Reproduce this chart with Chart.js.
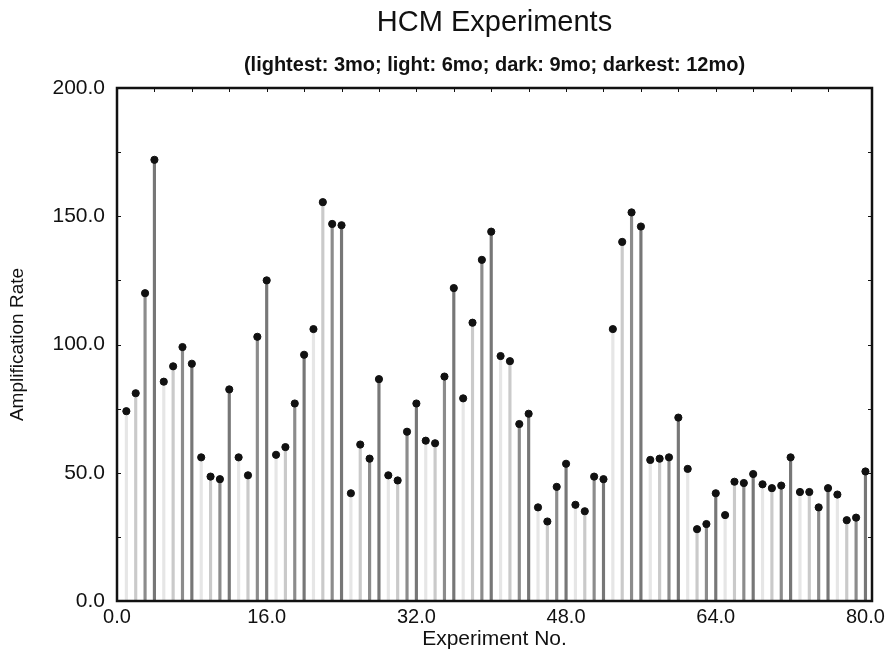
<!DOCTYPE html>
<html>
<head>
<meta charset="utf-8">
<title>HCM Experiments</title>
<script src="https://cdn.jsdelivr.net/npm/chart.js@4.4.1/dist/chart.umd.min.js"></script>
<style>
  html, body { margin: 0; padding: 0; background: #fff; }
</style>
</head>
<body>
<canvas id="myChart" width="885" height="658"></canvas>
<script>
// amplification rate of experiments 1..80
const rates = [
  74, 81, 120, 172, 85.5, 91.5, 99, 92.5, 56, 48.5,
  47.5, 82.5, 56, 49, 103, 125, 57, 60, 77, 96,
  106, 155.5, 147, 146.5, 42, 61, 55.5, 86.5, 49, 47,
  66, 77, 62.5, 61.5, 87.5, 122, 79, 108.5, 133, 144,
  95.5, 93.5, 69, 73, 36.5, 31, 44.5, 53.5, 37.5, 35,
  48.5, 47.5, 106, 140, 151.5, 146, 55, 55.5, 56, 71.5,
  51.5, 28, 30, 42, 33.5, 46.5, 46, 49.5, 45.5, 44,
  45, 56, 42.5, 42.5, 36.5, 44, 41.5, 31.5, 32.5, 50.5
];
// age in months of each experiment (stem shade)
const ages = [
  3, 6, 9, 12, 3, 6, 9, 12, 3, 6, 9, 12, 3, 6, 9, 12, 3, 6, 9, 12,
  3, 6, 9, 12, 3, 6, 9, 12, 3, 6, 9, 12, 3, 6, 9, 12, 3, 6, 9, 12,
  3, 6, 9, 12, 3, 6, 9, 12, 3, 6, 9, 12, 3, 6, 9, 12, 3, 6, 9, 12,
  3, 6, 9, 12, 3, 6, 9, 12, 3, 6, 9, 12, 3, 6, 9, 12, 3, 6, 9, 12
];
const ageColors = {3: '#e6e6e6', 6: '#cacaca', 9: '#8c8c8c', 12: '#777777'};
const xTicks = [0, 16, 32, 48, 64, 80];
const yTicks = [0, 50, 100, 150, 200];

const points = rates.map(function(v, i) {
    return {x: i + 1, y: v};
});

const FONT = "'Liberation Sans', Arial, Helvetica, sans-serif";

// frame with small inward tick marks + titles centred over the plot
const framePlugin = {
    id: 'frame',
    afterDraw: function(chart) {
        const ctx = chart.ctx;
        const a = chart.chartArea;
        const xs = chart.scales.x, ys = chart.scales.y;
        ctx.save();
        ctx.strokeStyle = '#111';
        ctx.lineWidth = 1;
        for (let v = 25; v < 200; v += 25) {
            const py = Math.round(ys.getPixelForValue(v)) + 0.5;
            ctx.beginPath();
            ctx.moveTo(a.left, py); ctx.lineTo(a.left + 4, py);
            ctx.moveTo(a.right, py); ctx.lineTo(a.right - 4, py);
            ctx.stroke();
        }
        for (let v = 4; v < 80; v += 4) {
            const px = Math.round(xs.getPixelForValue(v)) + 0.5;
            ctx.beginPath();
            ctx.moveTo(px, a.top); ctx.lineTo(px, a.top + 4);
            ctx.stroke();
        }
        ctx.lineWidth = 2.5;
        ctx.strokeRect(a.left, a.top, a.right - a.left, a.bottom - a.top);

        const cx = (a.left + a.right) / 2;
        ctx.fillStyle = '#111';
        ctx.textAlign = 'center';
        ctx.textBaseline = 'middle';
        ctx.font = '29px ' + FONT;
        ctx.fillText('HCM Experiments', cx, 23);
        ctx.font = 'bold 20px ' + FONT;
        ctx.fillText('(lightest: 3mo; light: 6mo; dark: 9mo; darkest: 12mo)', cx, 65);
        ctx.restore();
    }
};

const ctx = document.getElementById('myChart').getContext('2d');
const myChart = new Chart(ctx, {
    type: 'bar',
    data: {
        datasets: [{
            type: 'scatter',
            label: 'Amplification Rate',
            data: points,
            backgroundColor: '#111',
            borderColor: '#111',
            pointRadius: 3.6,
            pointHoverRadius: 3.6,
            order: 0
        }, {
            type: 'bar',
            label: 'stems',
            data: points,
            backgroundColor: function(c) {
                return ageColors[ages[c.dataIndex]];
            },
            barThickness: 2.5,
            grouped: false,
            order: 1
        }]
    },
    options: {
        responsive: false,
        animation: false,
        layout: {
            padding: {top: 88, left: 0, right: 13, bottom: 0}
        },
        plugins: {
            legend: {display: false},
            tooltip: {enabled: false}
        },
        scales: {
            x: {
                type: 'linear',
                min: 0,
                max: 80.7,
                offset: false,
                grid: {display: false, drawTicks: false, offset: false},
                border: {display: false},
                afterBuildTicks: function(scale) {
                    scale.ticks = xTicks.map(function(v) { return {value: v}; });
                },
                afterFit: function(scale) {
                    scale.height = 57;
                    scale.paddingLeft = 0;
                    scale.paddingRight = 0;
                },
                ticks: {
                    padding: 4,
                    color: '#111',
                    maxRotation: 0,
                    autoSkip: false,
                    font: {family: FONT, size: 20},
                    callback: function(v) { return Number(v).toFixed(1); }
                },
                title: {
                    display: true,
                    text: 'Experiment No.',
                    color: '#111',
                    padding: 6,
                    font: {family: FONT, size: 21}
                }
            },
            y: {
                min: 0,
                max: 200,
                grid: {display: false, drawTicks: false},
                border: {display: false},
                afterBuildTicks: function(scale) {
                    scale.ticks = yTicks.map(function(v) { return {value: v}; });
                },
                afterFit: function(scale) {
                    scale.width = 117;
                    scale.paddingTop = 0;
                    scale.paddingBottom = 0;
                },
                ticks: {
                    padding: 12,
                    color: '#111',
                    font: {family: FONT, size: 21},
                    callback: function(v) { return Number(v).toFixed(1); }
                },
                title: {
                    display: true,
                    text: 'Amplification Rate',
                    color: '#111',
                    padding: 6,
                    font: {family: FONT, size: 19}
                }
            }
        }
    },
    plugins: [framePlugin]
});
</script>
</body>
</html>
